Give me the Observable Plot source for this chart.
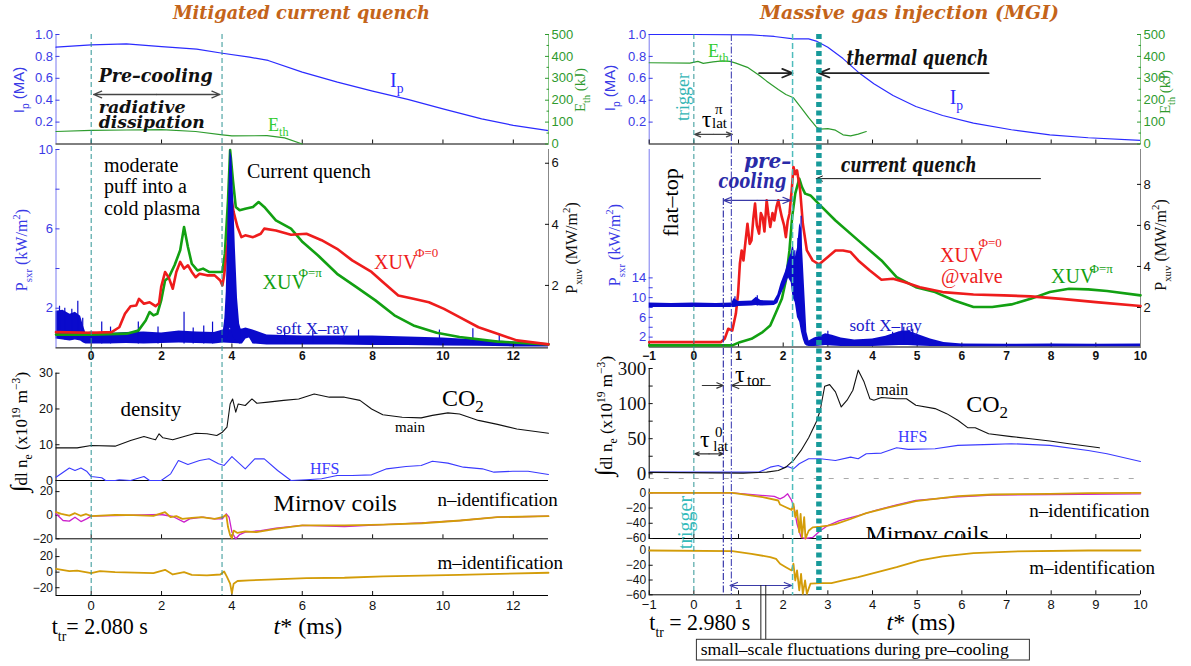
<!DOCTYPE html>
<html><head><meta charset="utf-8">
<script src="https://cdn.jsdelivr.net/npm/d3@7"></script>
<script src="https://cdn.jsdelivr.net/npm/@observablehq/plot@0.6"></script>
<style>
body{margin:0;background:#fff;}
#c{position:relative;width:1191px;height:666px;overflow:hidden;background:#fff;}
#c svg{position:absolute;left:0;top:0;}
</style></head><body><div id="c"></div>
<script>
// ---------------- DATA ----------------
const leftTicks = [0, 2, 4, 6, 8, 10, 12];
const rightTicks = [-1, 0, 1, 2, 3, 4, 5, 6, 7, 8, 9, 10];
const ipTicks = [0.2, 0.4, 0.6, 0.8, 1.0];
const ethTicks = [0, 100, 200, 300, 400, 500];
const ethMinor = [50, 150, 250, 350, 450];
const rdTicks = [0, 25, 50, 75, 100, 125, 150];
const rdTickLabels = ["0", "", "50", "", "100", "", "300"];

const leftMarkers = [0, 3.72];
const rightMarkers = [0, 0.66, 0.84, 2.21, 2.8];

// ---- left: mitigated current quench ----
const leftIp = [[-1,0.884],[0,0.905],[1,0.915],[2,0.89],[3,0.866],[3.73,0.829],[4.5,0.793],[5.03,0.763],[6,0.656],[7,0.565],[8,0.483],[9,0.407],[10,0.321],[11.1,0.23],[12,0.17],[13,0.123]];
const leftEth = [[-1,57],[0,62],[1,64],[2,66],[2.97,57],[3.73,42],[4,37],[5,38],[5.5,28],[6,0]];
const leftXuv0 = [[-1,0.47],[0,0.45],[0.58,0.47],[0.8,0.63],[0.96,1.07],[1.12,1.32],[1.28,1.34],[1.36,1.56],[1.5,1.4],[1.66,1.45],[1.83,1.32],[1.93,1.42],[1.99,1.95],[2.1,2.44],[2.2,2.27],[2.32,1.89],[2.42,2.44],[2.53,2.77],[2.64,2.55],[2.75,2.66],[2.86,2.44],[2.97,2.27],[3.08,2.38],[3.29,2.33],[3.51,2.33],[3.67,2.16],[3.73,2.0],[3.78,2.33],[3.89,3.48],[3.95,4.79],[3.98,4.9],[4.05,4.4],[4.16,3.91],[4.27,3.58],[4.38,3.64],[4.6,3.58],[4.82,3.69],[4.92,3.86],[5.25,3.8],[5.68,3.66],[6.12,3.69],[6.55,3.48],[6.99,3.2],[7.42,2.82],[7.97,2.44],[8.29,2.11],[8.73,1.67],[9.16,1.56],[9.6,1.45],[10.03,1.23],[10.47,0.96],[11.01,0.63],[11.55,0.42],[12.1,0.2],[13,0.07]];
const leftXuvPi = [[-1,0.39],[0,0.39],[1.01,0.42],[1.34,0.52],[1.55,0.85],[1.66,1.13],[1.77,1.02],[1.88,1.07],[1.99,1.51],[2.1,2.16],[2.21,2.27],[2.37,2.66],[2.53,3.15],[2.64,3.91],[2.75,3.26],[2.86,2.71],[3.02,2.49],[3.18,2.55],[3.35,2.44],[3.57,2.44],[3.73,2.44],[3.8,3.04],[3.89,4.79],[3.95,6.43],[4.03,5.44],[4.11,4.57],[4.22,4.46],[4.38,4.51],[4.6,4.57],[4.76,4.73],[4.92,4.57],[5.25,4.13],[5.68,3.86],[6.01,3.42],[6.45,2.98],[6.99,2.38],[7.53,1.95],[8.08,1.51],[8.62,1.02],[9.16,0.69],[9.82,0.45],[10.47,0.31],[11.55,0.16],[13,0.07]];
const leftSxrBand = [[-1,0.45,1.85],[-0.8,0.4,1.9],[-0.6,0.35,1.7],[-0.45,0.4,1.8],[-0.3,0.35,1.6],[-0.22,0.25,1.1],[-0.15,0.2,0.75],[0,0.2,0.8],[0.5,0.2,0.72],[1,0.22,0.78],[1.5,0.2,0.8],[2,0.22,0.75],[2.5,0.25,0.85],[3,0.22,0.8],[3.5,0.2,0.78],[3.75,0.25,0.9],[4.3,0.2,0.95],[4.4,0.45,1.0],[4.5,0.5,0.95],[4.6,0.2,0.9],[5,0.15,0.65],[6,0.15,0.6],[7,0.15,0.6],[8,0.12,0.6],[9,0.12,0.55],[10,0.1,0.5],[11,0.08,0.4],[12,0.05,0.3],[13,0.05,0.2]];
const leftSxrPeak = [[3.76,0.3,0.9],[3.8,0.3,1.5],[3.84,0.3,2.8],[3.89,0.5,6.5],[3.95,1,10],[4.0,0.8,9.6],[4.05,0.5,7.5],[4.1,0.4,5],[4.16,0.3,2.5],[4.22,0.2,1.2],[4.26,0.2,0.95]];
const leftSxrSpikes = [[-0.9,0.5,2.1],[-0.75,0.4,2.0],[-0.55,0.4,1.95],[-0.38,0.5,2.35],[-0.24,0.3,1.5],[0.3,0.2,1.3],[0.55,0.2,1.05],[1.34,0.2,1.3],[1.9,0.2,1.05],[2.64,0.2,1.8],[2.9,0.2,1.0],[3.2,0.2,1.1],[3.45,0.2,1.3],[5.5,0.2,0.95],[6.3,0.2,0.85],[7.6,0.2,0.9],[9.9,0.2,0.9],[10.85,0.2,0.96],[11.6,0.1,0.7]];
const leftCO2 = [[-1,9.13],[-0.4,9.13],[0,9.79],[0.68,9.6],[1.12,11.18],[1.5,12.3],[1.72,11.65],[1.83,11.37],[1.93,13.05],[2.04,11.93],[2.32,11.37],[2.64,12.3],[2.97,13.23],[3.29,13.05],[3.57,12.58],[3.73,13.5],[3.86,14.9],[3.95,21.4],[4.02,22.8],[4.11,19.1],[4.18,21.4],[4.38,20.97],[4.57,22.8],[4.71,21.6],[5.03,21.9],[5.47,22.4],[5.9,22.8],[6.34,24.2],[6.77,23.3],[7.2,23.3],[7.64,22.4],[7.97,20.0],[8.29,18.4],[8.84,17.7],[9.38,17.5],[9.7,18.2],[10.14,18.9],[10.47,18.6],[11.01,16.8],[11.55,15.7],[12.1,14.4],[13,13.2]];
const leftHFS = [[-1,0.93],[-0.62,3.5],[-0.46,2.8],[-0.29,3.5],[-0.13,2.6],[0,1.1],[0.3,0.75],[0.41,0],[0.68,0],[0.8,0.2],[1.12,0],[1.5,1.1],[1.66,0],[1.99,0],[2.26,1.86],[2.48,5.6],[2.75,4.5],[3.08,5.6],[3.35,6.06],[3.62,4.66],[3.78,4.2],[4.0,6.7],[4.38,3.26],[4.65,6.06],[4.92,6.06],[5.3,2.8],[5.68,0],[6.12,0.2],[6.55,0.47],[6.99,1.4],[7.42,1.4],[7.97,1.58],[8.4,3.26],[8.95,3.9],[9.38,4.2],[9.7,5.4],[10.14,4.85],[10.58,3.73],[11.12,3.26],[11.45,2.33],[11.99,2.6],[12.42,2.6],[13,1.68]];
const leftMirNgold = [[-1,2.6],[-0.85,1.2],[-0.62,-0.3],[-0.46,1.7],[-0.3,-0.5],[-0.15,1.0],[0,-0.8],[0.68,0.3],[1.2,0],[1.77,-0.5],[2.1,2.6],[2.26,-1.7],[2.42,-0.8],[2.59,-3.1],[2.86,-2.2],[3.13,-1.7],[3.51,-3.1],[3.73,-1.7],[3.84,0.3],[3.89,-10],[3.95,-17],[4.0,-19.5],[4.05,-13],[4.16,-15],[4.38,-13.8],[4.7,-14.4],[5.25,-11.5],[6.0,-8.7],[7.2,-8.7],[8.3,-7.9],[9.4,-6.8],[10.5,-4.5],[11.55,-1.7],[13,-0.8]];
const leftMirNmag = [[-1,1.2],[-0.8,-4.5],[-0.62,-5.0],[-0.46,-1.7],[-0.29,-5.4],[-0.13,-3.1],[0,-0.8],[0.68,-0.3],[1.99,0.6],[2.32,-1.1],[2.64,-5.9],[2.8,-3.1],[3.18,-1.7],[3.51,-3.1],[3.73,-3.1],[3.84,1.2],[3.92,-1.7],[4.0,-14.4],[4.11,-20],[4.22,-16.4],[4.38,-14.4],[4.82,-13],[5.25,-11],[6.0,-8.7],[7.2,-9.6],[8.3,-7.9],[9.4,-6.5],[10.5,-4.5],[11.55,-1.7],[13,-0.8]];
const leftMirM = [[-1,4.2],[-0.62,1.3],[-0.4,2],[0,-1.3],[0.25,1.3],[0.68,0],[1.77,-1.3],[2.1,3],[2.32,-3],[2.64,0],[2.86,-3.4],[3.29,-4.2],[3.67,-3],[3.78,0.8],[3.86,-6],[3.95,-14.8],[4.0,-27],[4.05,-14.8],[4.16,-11.4],[4.49,-10.5],[5.03,-9.7],[6.12,-7.6],[7.2,-7.2],[8.3,-5.5],[10.47,-3.4],[13,-0.8]];

// ---- right: massive gas injection ----
const rightIp = [[-1,1.0],[0,1.0],[1.29,0.997],[1.8,0.982],[2.23,0.96],[2.57,0.96],[2.74,0.94],[3.0,0.884],[3.34,0.78],[3.68,0.656],[4.03,0.55],[4.46,0.443],[4.97,0.342],[5.57,0.26],[6.26,0.19],[7.11,0.13],[7.97,0.084],[8.83,0.057],[10,0.033]];
const rightEth = [[-1,371],[-0.09,369],[0.09,377],[0.21,368],[0.43,375],[0.64,380],[0.81,377],[0.94,369],[1.2,350],[1.46,314],[1.63,287],[1.89,249],[2.06,226],[2.23,211],[2.4,166],[2.57,120],[2.74,78],[2.83,67.5],[3.0,70],[3.17,63],[3.34,42],[3.51,37],[3.68,45],[3.86,57]];
const rightXuv0 = [[-1,0.31],[0.6,0.31],[0.69,0.47],[0.77,0.96],[0.86,0.88],[0.94,1.69],[0.99,2.67],[1.03,4.13],[1.07,4.78],[1.11,4.29],[1.16,5.3],[1.2,6.08],[1.25,5.1],[1.29,5.27],[1.33,6.3],[1.37,7.06],[1.41,6.0],[1.46,5.6],[1.5,6.6],[1.54,6.4],[1.58,5.7],[1.63,7.22],[1.67,6.5],[1.71,5.92],[1.76,6.6],[1.8,6.24],[1.85,6.9],[1.89,7.22],[1.93,6.8],[1.97,6.4],[2.02,6.0],[2.06,5.43],[2.1,6.2],[2.14,6.57],[2.19,7.7],[2.23,8.85],[2.27,8.5],[2.31,8.68],[2.38,7.7],[2.44,6.08],[2.53,4.78],[2.66,4.29],[2.8,4.1],[3.0,4.46],[3.17,4.78],[3.34,4.78],[3.51,4.7],[3.68,4.29],[3.94,3.8],[4.2,3.35],[4.46,3.4],[4.71,3.24],[5.06,2.99],[5.57,2.75],[6.26,2.63],[6.94,2.59],[7.54,2.54],[8.23,2.42],[9.0,2.26],[10,2.07]];
const rightXuvPi = [[-1,0.15],[0.86,0.15],[1.03,0.31],[1.29,0.47],[1.54,0.8],[1.71,1.12],[1.84,1.77],[1.97,2.42],[2.06,3.32],[2.14,4.78],[2.2,6.4],[2.27,7.55],[2.36,8.28],[2.42,7.87],[2.49,7.55],[2.61,7.46],[2.83,6.98],[3.17,6.24],[3.68,5.27],[4.2,4.29],[4.54,3.48],[4.97,2.99],[5.4,2.75],[5.83,2.34],[6.26,2.02],[6.68,2.02],[7.11,2.15],[7.54,2.42],[7.97,2.75],[8.4,2.91],[8.83,2.88],[9.25,2.8],[10,2.59]];
const rightSxrBand = [[-1,8.0,8.9],[-0.5,8.0,8.8],[0,8.0,8.9],[0.5,8.0,8.8],[0.85,8.0,8.9],[0.9,8.0,9.8],[1.0,8.2,9.2],[1.3,8.3,9.3],[1.4,8.4,10.1],[1.5,8.3,9.4],[1.8,8.4,9.3],[1.88,8.8,10.6],[1.95,10.5,12.8],[2.05,12.5,15.2],[2.12,14,17.5],[2.18,13,19],[2.22,10,21],[2.27,9,18],[2.32,6,20],[2.37,5,25],[2.41,3,24],[2.45,1.5,17],[2.49,0.5,10],[2.53,0.2,3],[2.58,0.1,1.2],[2.7,0.1,1.8],[2.85,0.2,2.3],[2.95,0.3,2.7],[3.1,0.2,2.4],[3.3,0.1,1.8],[3.6,0.1,1.4],[4.0,0.1,1.6],[4.3,0.2,2.2],[4.6,0.3,3.1],[4.8,0.3,3.3],[5.0,0.2,2.6],[5.3,0.1,1.6],[5.6,0.1,0.9],[6,0.05,0.6],[7,0.05,0.55],[8,0.05,0.6],[9,0.05,0.55],[10,0.05,0.6]];
const rightSxrSpikes = [[0.92,8,10.2],[1.42,8.3,10.4],[2.26,10,19.5],[2.33,6,22],[2.4,4,26.5],[3.0,0.3,3.2],[4.45,0.3,3.0],[4.7,0.5,4.0],[4.9,0.4,3.6]];
const rightCO2 = [[-1,2],[1.11,1],[1.63,2.4],[1.89,4.8],[2.06,9.5],[2.23,19],[2.4,33.3],[2.57,51.4],[2.74,73.8],[2.83,90.5],[2.87,104.8],[2.93,124.8],[3.04,127],[3.17,116.7],[3.3,95.2],[3.43,104.8],[3.56,119],[3.68,147.6],[3.81,131],[3.94,107],[4.03,104.8],[4.2,108.6],[4.54,107],[4.76,107],[4.97,97.6],[5.4,92.9],[5.66,85.7],[5.91,76.2],[6.13,65.7],[6.3,65.7],[6.6,57],[7.11,53],[7.54,50],[7.97,46.7],[8.4,42.9],[9.08,37]];
const rightHFS = [[-1,2.4],[1.46,2.4],[1.71,9.5],[1.89,11.9],[2.01,8.6],[2.1,10.5],[2.23,7.1],[2.36,14.3],[2.57,21.4],[2.83,21.4],[3.17,19],[3.51,23.8],[3.68,21.4],[3.86,28.6],[4.2,29.5],[4.54,37],[4.8,34.8],[5.4,35.7],[5.91,40.5],[6.68,41.9],[7.11,42.9],[7.97,40.5],[8.83,33.3],[9.25,28.6],[10,17.6]];
const rightMirNgold = [[-1,0],[0.86,0],[1.11,-2.2],[1.54,-5.7],[1.89,-10.1],[1.93,-15.4],[2.06,-19],[2.19,-22.5],[2.23,-14.5],[2.27,-32],[2.31,-23],[2.36,-52],[2.39,-27.7],[2.42,-58.6],[2.47,-32],[2.5,-60],[2.57,-49.8],[2.66,-45.4],[2.83,-44.5],[3.0,-43],[3.17,-41],[3.51,-34.4],[3.86,-26.8],[4.37,-19],[4.97,-11],[5.4,-8],[5.91,-4.4],[6.68,-2.2],[7.97,-1.3],[8.83,-0.5],[10,0]];
const rightMirNmag = [[-1,0],[0.86,0],[1.8,-4.8],[1.93,-7.9],[2.01,-5.7],[2.1,-1.3],[2.19,-10.1],[2.25,-21],[2.31,-41],[2.4,-58.6],[2.49,-60],[2.66,-58.6],[2.83,-49.8],[3.0,-43],[3.26,-36.5],[3.68,-30],[4.11,-22.5],[4.54,-15.8],[4.97,-10.1],[5.83,-5.7],[6.68,-3.1],[7.97,-2.2],[10,-1.3]];
const rightMirM = [[-1,0],[0.86,-0.9],[1.29,-4.5],[1.71,-9],[1.84,-11.3],[1.93,-18],[2.06,-22.6],[2.19,-27],[2.23,-18],[2.27,-40.6],[2.31,-27],[2.36,-54],[2.4,-31.6],[2.44,-58.7],[2.49,-40.6],[2.53,-58.7],[2.61,-45],[2.83,-44.3],[3.08,-44.3],[3.34,-40.6],[3.68,-36],[4.11,-29.4],[4.54,-22.6],[5.06,-13.5],[5.57,-8.1],[6.26,-3.6],[7.11,-1.4],[8.83,0],[10,0]];

const leftPreArrow = [0.07, 3.66];
const rightLatPiArrow = [0.02, 0.86];
const rightTqArrows = [[1.46, 2.21], [6.6, 2.8]];
const rightCqArrow = [[7.76, 2.74]];
const rightPreArrow = [0.67, 2.16];
const rightTorArrows = [[0.19, 0.66], [1.71, 0.84]];
const rightLat0Arrow = [0.02, 0.66];
const rightFluctArrow = [0.81, 2.19];
const rightFluctLinks = [1.5, 1.61];

// ---------------- RENDERING ----------------
const W = 1191, H = 666;
const SERIF = "'Liberation Serif','Times New Roman',serif";
const SANS = "'Liberation Sans',Arial,Helvetica,sans-serif";
const TITLEF = "'DejaVu Serif',serif";
const C = {ip:"#2b2bff", ipAxis:"#3a3ae6", ipLine:"#7a7af0", eth:"#2e9c2e", ethAxis:"#2e9a2e", ethLine:"#86c586",
  xuv0:"#ee1c1c", xuvPi:"#12a012", sxr:"#0a0acc", co2:"#111", hfs:"#3a3aff", mag:"#cc22cc", gold:"#d39c08",
  teal:"#2f9595", teal2:"#4fbcbc", tq:"#179a9a", orange:"#c4641a"};
const COLS = {L:{x0:55.5, x1:548, dom:[-1,13]}, R:{x0:648.7, x1:1140, dom:[-1,10]}};
const container = document.getElementById("c");
const intF = d3.format("d");

function layer(col, top, bottom, y, marks) {
  const c = COLS[col];
  const svg = Plot.plot({
    width: W, height: H,
    marginLeft: c.x0, marginRight: W - c.x1, marginTop: top, marginBottom: H - bottom,
    x: {domain: c.dom, axis: null},
    y: {...y, axis: null},
    style: {background: "transparent", overflow: "visible"},
    marks
  });
  svg.style.position = "absolute"; svg.style.left = "0px"; svg.style.top = "0px";
  container.appendChild(svg);
  return svg;
}
const yAx = o => Plot.axisY({tickSize: -4, tickPadding: 7, fontSize: 13, fontFamily: SANS, color: "#111", tickFormat: intF, ...o});
const xAx = o => Plot.axisX({anchor: "bottom", tickSize: -4, tickPadding: 9, fontSize: 13, fontFamily: SANS, color: "#111", tickFormat: intF, ...o});
const noLab = () => "";
const ln = (data, stroke, w = 1.2) => Plot.line(data, {x: d => d[0], y: d => d[1], stroke, strokeWidth: w});
const band = (data, fill) => Plot.areaY(data, {x: d => d[0], y1: d => d[1], y2: d => d[2], fill, curve: "linear"});
const spikes = (data, stroke) => Plot.ruleX(data, {x: d => d[0], y1: d => d[1], y2: d => d[2], stroke, strokeWidth: 1.2});
const arrows = (pairs, y, stroke, w = 1.3) => Plot.arrow(pairs, {x1: d => d[0], x2: d => d[1], y1: y, y2: y, stroke, strokeWidth: w, headLength: 10, headAngle: 45});
const dbl = ([a, b], y, stroke, w) => arrows([[(a + b) / 2, a], [(a + b) / 2, b]], y, stroke, w);

// ---- left column ----
layer("L", 34, 143.5, {domain: [0, 1]}, [
  Plot.ruleX([-1], {stroke: C.ipLine}), Plot.ruleY([0], {stroke: "#000"}),
  yAx({anchor: "left", ticks: ipTicks, tickFormat: d3.format(".1f"), color: C.ipAxis}),
  xAx({ticks: leftTicks, tickFormat: noLab}),
  ln(leftIp, C.ip, 1.2),
  dbl(leftPreArrow, 0.452, "#444")
]);
layer("L", 34, 143.5, {domain: [0, 500]}, [
  Plot.ruleX([13], {stroke: C.ethLine}),
  yAx({anchor: "right", ticks: ethTicks, color: C.ethAxis}),
  yAx({anchor: "right", ticks: ethMinor, tickSize: -2.5, tickFormat: noLab, color: C.ethAxis}),
  ln(leftEth, C.eth, 1.2)
]);
layer("L", 149, 347.4, {domain: [0, 10]}, [
  band(leftSxrBand, C.sxr), spikes(leftSxrSpikes, C.sxr),
  Plot.ruleX([-1], {stroke: C.ipLine}), Plot.ruleY([0], {stroke: "#000"}),
  yAx({anchor: "left", ticks: [2, 6, 10], color: C.ipAxis}),
  yAx({anchor: "left", ticks: [4, 8], tickFormat: noLab, color: C.ipAxis}),
  xAx({ticks: leftTicks, fontWeight: "bold", fontSize: 12, tickPadding: 8})
]);
layer("L", 149, 346, {domain: [0, 6.45]}, [
  Plot.ruleX([13], {stroke: "#888"}),
  yAx({anchor: "right", ticks: [2, 4, 6]}),
  ln(leftXuvPi, C.xuvPi, 2.6), ln(leftXuv0, C.xuv0, 2.6)
]);
layer("L", 149, 347.4, {domain: [0, 10]}, [band(leftSxrPeak, C.sxr)]);
layer("L", 372.7, 480, {domain: [0, 30]}, [
  Plot.ruleX([-1], {stroke: "#000"}), Plot.ruleY([0], {stroke: "#000"}),
  yAx({anchor: "left", ticks: [0, 10, 20, 30], fontSize: 12.5}),
  ln(leftHFS, C.hfs, 1.1), ln(leftCO2, C.co2, 1.1)
]);
layer("L", 480.5, 538.3, {domain: [-20, 29]}, [
  Plot.ruleX([-1], {stroke: "#000"}), Plot.ruleY([-20], {stroke: "#000"}),
  yAx({anchor: "left", ticks: [-20, 0, 20], fontSize: 12}),
  xAx({ticks: leftTicks, tickFormat: noLab}),
  ln(leftMirNmag, C.mag, 1.3), ln(leftMirNgold, C.gold, 1.8)
]);
layer("L", 548.3, 595, {domain: [-30, 30]}, [
  Plot.ruleX([-1], {stroke: "#000"}), Plot.ruleY([-30], {stroke: "#000"}),
  yAx({anchor: "left", ticks: [-20, 0, 20], fontSize: 12}),
  xAx({ticks: leftTicks}),
  ln(leftMirM, C.gold, 1.8)
]);
layer("L", 0, 666, {domain: [666, 0]}, [
  Plot.ruleX(leftMarkers, {x: d => d, y1: 34, y2: 595, stroke: C.teal, strokeDasharray: "5,3", strokeWidth: 1})
]);

// ---- right column ----
layer("R", 34, 143.5, {domain: [0, 1]}, [
  Plot.ruleX([-1], {stroke: C.ipLine}), Plot.ruleY([0], {stroke: "#000"}),
  yAx({anchor: "left", ticks: ipTicks, tickFormat: d3.format(".1f"), color: C.ipAxis}),
  xAx({ticks: rightTicks, tickFormat: noLab}),
  ln(rightIp, C.ip, 1.2),
  dbl(rightLatPiArrow, 0.087, "#444"),
  arrows(rightTqArrows, 0.647, "#222", 1.7)
]);
layer("R", 34, 143.5, {domain: [0, 500]}, [
  Plot.ruleX([10], {stroke: C.ethLine}),
  yAx({anchor: "right", ticks: ethTicks, color: C.ethAxis}),
  yAx({anchor: "right", ticks: ethMinor, tickSize: -2.5, tickFormat: noLab, color: C.ethAxis}),
  ln(rightEth, C.eth, 1.2)
]);
layer("R", 149, 346.5, {domain: [0, 40]}, [
  Plot.ruleX([-1], {stroke: C.ipLine}), Plot.ruleY([0], {stroke: "#000"}),
  yAx({anchor: "left", ticks: [2, 6, 10, 14], color: C.ipAxis}),
  yAx({anchor: "left", ticks: [4, 8, 12], tickFormat: noLab, color: C.ipAxis}),
  xAx({ticks: rightTicks, fontWeight: "bold", fontSize: 12, tickPadding: 8})
]);
layer("R", 149, 348, {domain: [0, 9.7]}, [
  Plot.ruleX([10], {stroke: "#888"}),
  yAx({anchor: "right", ticks: [2, 4, 6, 8]}),
  ln(rightXuvPi, C.xuvPi, 2.6), ln(rightXuv0, C.xuv0, 2.6),
  dbl(rightPreArrow, 7.22, "#3a3aa8", 1.2),
  arrows(rightCqArrow, 8.28, "#111", 1)
]);
layer("R", 149, 346.5, {domain: [0, 40]}, [band(rightSxrBand, C.sxr), spikes(rightSxrSpikes, C.sxr)]);
layer("R", 368, 478, {domain: [-6.7, 150]}, [
  Plot.ruleX([-1], {stroke: "#000"}),
  Plot.ruleY([-6.7], {stroke: "#aaa", strokeDasharray: "5,10"}),
  yAx({anchor: "left", ticks: rdTicks, tickFormat: d => rdTickLabels[rdTicks.indexOf(d)], fontFamily: SERIF, fontSize: 19}),
  ln(rightHFS, C.hfs, 1.1), ln(rightCO2, C.co2, 1.1),
  arrows(rightTorArrows, 125.8, "#333", 1.2),
  dbl(rightLat0Arrow, 28.5, "#333", 1.2)
]);
layer("R", 488.5, 538, {domain: [-60, 5]}, [
  Plot.ruleX([-1], {stroke: "#000"}), Plot.ruleY([-60], {stroke: "#000"}),
  yAx({anchor: "left", ticks: [-60, -40, -20, 0], fontSize: 12}),
  xAx({ticks: rightTicks, tickFormat: noLab}),
  ln(rightMirNmag, C.mag, 1.3), ln(rightMirNgold, C.gold, 1.8)
]);
layer("R", 546.3, 594.3, {domain: [-60, 5]}, [
  Plot.ruleX([-1], {stroke: "#000"}), Plot.ruleY([-60], {stroke: "#000"}),
  yAx({anchor: "left", ticks: [-60, -40, -20, 0], fontSize: 12}),
  xAx({ticks: rightTicks}),
  ln(rightMirM, C.gold, 1.8),
  dbl(rightFluctArrow, -47.4, "#3a3aa8", 1.2)
]);
layer("R", 0, 666, {domain: [666, 0]}, [
  Plot.ruleX([rightMarkers[0]], {x: d => d, y1: 34, y2: 595, stroke: C.teal, strokeDasharray: "5,3", strokeWidth: 1}),
  Plot.ruleX([rightMarkers[1]], {x: d => d, y1: 198, y2: 595, stroke: "#3a3aaa", strokeDasharray: "7,2,1.5,2", strokeWidth: 1.2}),
  Plot.ruleX([rightMarkers[2]], {x: d => d, y1: 34, y2: 595, stroke: "#5555bb", strokeDasharray: "7,2,1.5,2", strokeWidth: 1.2}),
  Plot.ruleX([rightMarkers[3]], {x: d => d, y1: 34, y2: 595, stroke: C.teal2, strokeDasharray: "6,3", strokeWidth: 1.5}),
  Plot.ruleX([rightMarkers[4]], {x: d => d, y1: 34, y2: 590, stroke: C.tq, strokeDasharray: "5,3.5", strokeWidth: 5.5}),
  Plot.ruleX(rightFluctLinks, {x: d => d, y1: 585, y2: 639.3, stroke: "#222", strokeWidth: 1})
]);

// ---------------- TEXT OVERLAY ----------------
const ov = d3.create("svg").attr("width", W).attr("height", H);
container.appendChild(ov.node());
ov.append("clipPath").attr("id", "mirclip").append("rect").attr("x", 0).attr("y", 0).attr("width", W).attr("height", 539);
function label(x, y, parts, o = {}) {
  const size = o.size || 20;
  const t = ov.append("text").attr("x", x).attr("y", y)
    .attr("font-family", o.font || SERIF).attr("font-size", size)
    .attr("fill", o.color || "#000").attr("text-anchor", o.anchor || "start");
  if (o.italic) t.attr("font-style", "italic");
  if (o.bold) t.attr("font-weight", "bold");
  if (o.rotate) t.attr("transform", `rotate(${o.rotate},${x},${y})`);
  if (o.len) t.attr("textLength", o.len).attr("lengthAdjust", "spacingAndGlyphs");
  if (o.clip) t.attr("clip-path", `url(#${o.clip})`);
  let cur = 0;
  for (const p of (Array.isArray(parts) ? parts : [parts])) {
    const q = typeof p === "string" ? {t: p} : p;
    const target = q.sub ? (q.shift ?? size * 0.3) : q.sup ? -(q.shift ?? size * 0.42) : 0;
    const ts = t.append("tspan").attr("dy", target - cur).text(q.t);
    if (q.sub || q.sup || q.size) ts.attr("font-size", q.size || size * 0.68);
    if (q.i) ts.attr("font-style", "italic");
    cur = target;
  }
  return t;
}
const BI = {font: TITLEF, bold: true, italic: true};
label(173, 19, "Mitigated current quench", {...BI, size: 19, color: C.orange, len: 257});
label(760, 19, "Massive gas injection (MGI)", {...BI, size: 19, color: C.orange, len: 299});

// left annotations
label(98.7, 82, "Pre\u2013cooling", {...BI, size: 19, len: 114, color: "#111"});
label(98.7, 112.5, "radiative", {...BI, size: 17, len: 87, color: "#111"});
label(98.7, 127.5, "dissipation", {...BI, size: 17, len: 106, color: "#111"});
label(390, 87, ["I", {t: "p", sub: true}], {size: 20, color: C.ip});
label(268, 131, ["E", {t: "th", sub: true}], {size: 18, color: "#33cc33"});
label(104, 171.7, "moderate", {size: 20});
label(104, 193.3, "puff into a", {size: 20});
label(104, 215, "cold plasma", {size: 20});
label(247, 178.3, "Current quench", {size: 20});
label(374, 269.3, "XUV", {size: 20, color: C.xuv0});
label(415, 257, "\u03A6=0", {size: 13, color: C.xuv0});
label(262.5, 289, "XUV", {size: 20, color: C.xuvPi});
label(298.5, 276.7, "\u03A6=\u03C0", {size: 13, color: C.xuvPi});
label(276, 334.3, "soft X\u2013ray", {size: 17, color: "#1a1acc"});
label(120.5, 416, "density", {size: 21});
label(442, 406, ["CO", {t: "2", sub: true, size: 17, shift: 6}], {size: 24});
label(395, 431.7, "main", {size: 15});
label(310, 474.3, "HFS", {size: 16, color: C.hfs});
label(273.6, 511, "Mirnov coils", {size: 24});
label(437.4, 506, "n\u2013identification", {size: 19});
label(437.4, 569.3, "m\u2013identification", {size: 19});
label(51.7, 634, ["t", {t: "tr", sub: true, size: 15, shift: 7}, "= 2.080 s"], {size: 24, len: 96});
label(273.6, 634, [{t: "t", i: true}, "*  (ms)"], {size: 24});
label(24, 90, ["I", {t: "p", sub: true}, " (MA)"], {font: SANS, size: 15, color: C.ipAxis, rotate: -90, anchor: "middle"});
label(585, 90, ["E", {t: "th", sub: true}, " (kJ)"], {size: 15, color: C.ethAxis, rotate: -90, anchor: "middle"});
label(27, 250, ["P", {t: "sxr", sub: true}, " (kW/m", {t: "2", sup: true}, ")"], {size: 16, color: C.ipAxis, rotate: -90, anchor: "middle"});
label(577, 248, ["P", {t: "xuv", sub: true}, " (MW/m", {t: "2", sup: true}, ")"], {size: 16, color: "#111", rotate: -90, anchor: "middle"});
label(27, 432, [{t: "\u222B", size: 24}, "dl n", {t: "e", sub: true}, " (x10", {t: "19", sup: true}, " m", {t: "\u22123", sup: true}, ")"], {size: 17, rotate: -90, anchor: "middle"});

// right annotations
label(708, 56.7, ["E", {t: "th", sub: true}], {size: 18, color: "#33cc33"});
label(689, 97, "trigger", {size: 18, color: "#33b5b5", rotate: -90, anchor: "middle"});
label(701.7, 126.7, "\u03C4", {size: 24});
label(715, 114, "\u03C0", {size: 15});
label(712, 128, "lat", {size: 15});
label(846.4, 65, "thermal quench", {...BI, size: 20, len: 142, color: "#111"});
label(949.7, 104, ["I", {t: "p", sub: true}], {size: 20, color: C.ip});
label(678, 202.5, "flat\u2013top", {size: 22, rotate: -90, anchor: "middle"});
label(744, 168.3, "pre\u2013", {...BI, size: 20, color: "#2a2aa8"});
label(718.3, 188.3, "cooling", {...BI, size: 20, len: 68, color: "#2a2aa8"});
label(840.7, 171.7, "current quench", {...BI, size: 20, len: 136, color: "#111"});
label(940, 261.7, "XUV", {size: 20, color: C.xuv0});
label(978.4, 246.7, "\u03A6=0", {size: 13, color: C.xuv0});
label(941, 283.3, "@valve", {size: 20, color: C.xuv0});
label(1051, 283.3, "XUV", {size: 20, color: C.xuvPi});
label(1089.4, 273.3, "\u03A6=\u03C0", {size: 13, color: C.xuvPi});
label(849.5, 330.7, "soft X\u2013ray", {size: 17, color: "#1a1acc"});
label(735, 382, "\u03C4", {size: 24});
label(747, 386, "tor", {size: 16});
label(700, 446.7, "\u03C4", {size: 24});
label(715, 436.7, "0", {size: 15});
label(713.3, 451, "lat", {size: 15});
label(876.3, 395, "main", {size: 16});
label(966.2, 411.7, ["CO", {t: "2", sub: true, size: 17, shift: 6}], {size: 24});
label(898, 441.7, "HFS", {size: 16, color: C.hfs});
label(692, 522.5, "trigger", {size: 20, color: "#33bbbb", rotate: -90, anchor: "middle"});
label(1029.3, 516.7, "n\u2013identification", {size: 19});
label(865.5, 542, "Mirnov coils", {size: 24, clip: "mirclip"});
label(1029.3, 574, "m\u2013identification", {size: 19});
label(649.3, 630, ["t", {t: "tr", sub: true, size: 15, shift: 7}, " = 2.980 s"], {size: 24, len: 101});
label(886.6, 630, [{t: "t", i: true}, "*  (ms)"], {size: 24});
ov.append("rect").attr("x", 696.4).attr("y", 639.3).attr("width", 333).attr("height", 20.7)
  .attr("fill", "#fff").attr("stroke", "#333").attr("stroke-width", 1);
label(700.7, 655, "small\u2013scale fluctuations during pre\u2013cooling", {size: 16, len: 308});
label(615, 88, ["I", {t: "p", sub: true}, " (MA)"], {font: SANS, size: 15, color: C.ipAxis, rotate: -90, anchor: "middle"});
label(1170, 92, ["E", {t: "th", sub: true}, " (kJ)"], {size: 15, color: C.ethAxis, rotate: -90, anchor: "middle"});
label(620, 245, ["P", {t: "sxr", sub: true}, " (kW/m", {t: "2", sup: true}, ")"], {size: 16, color: C.ipAxis, rotate: -90, anchor: "middle"});
label(1166, 245, ["P", {t: "xuv", sub: true}, " (MW/m", {t: "2", sup: true}, ")"], {size: 16, color: "#111", rotate: -90, anchor: "middle"});
label(612, 416, [{t: "\u222B", size: 24}, "dl n", {t: "e", sub: true}, " (x10", {t: "19", sup: true}, " m", {t: "\u22123", sup: true}, ")"], {size: 17, rotate: -90, anchor: "middle"});
</script></body></html>
